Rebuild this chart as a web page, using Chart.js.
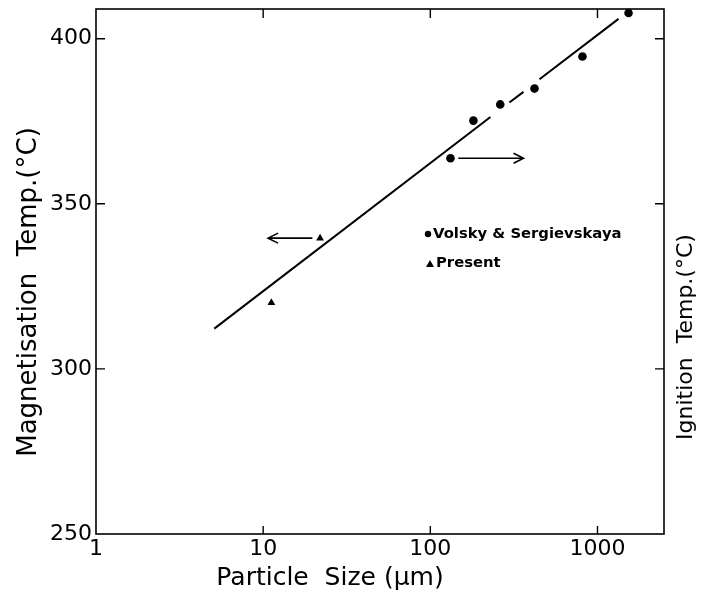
<!DOCTYPE html>
<html><head><meta charset="utf-8">
<script src="https://cdn.jsdelivr.net/npm/chart.js@4/dist/chart.umd.min.js"></script>
<style>html,body{margin:0;padding:0;background:#fff;}#wrap{width:702px;height:595px;position:relative;}</style>
</head><body><div id="wrap"><canvas id="c" width="702" height="595" style="width:702px;height:595px"></canvas></div>
<script>
// ---- data ----
const xTickValues = [1, 10, 100, 1000];
const yTickValues = [250, 300, 350, 400];
const seriesNames = ["Volsky & Sergievskaya", "Present"];
const volskySize = [132, 181, 262, 420, 813, 1534];
const volskyTemp = [363.8, 375.2, 380.1, 384.9, 394.6, 407.8];
const presentSize = [11.2, 21.9];
const presentTemp = [320.0, 339.6];
const fitSolidASize = [5.1, 229];
const fitSolidATemp = [312.2, 376.3];
const fitDashSize = [297, 361];
const fitDashTemp = [380.7, 383.9];
const fitSolidBSize = [450, 1336];
const fitSolidBTemp = [387.7, 406.0];
const arrowStartSize = [147, 19.7];
const arrowEndSize = [361, 10.7];
const arrowTemp = [363.8, 339.6];
const xTitle = "Particle  Size (\u00b5m)";
const yTitle = "Magnetisation  Temp.(\u00b0C)";
const y2Title = "Ignition  Temp.(\u00b0C)";

const pts = (xs, ys) => xs.map((x, i) => ({x: x, y: ys[i]}));
const FONT = "'DejaVu Sans', sans-serif";

const framePlugin = {
  id: 'frame',
  afterDraw(chart) {
    const ctx = chart.ctx, a = chart.chartArea;
    const xs = chart.scales.x, ys = chart.scales.y;
    ctx.save();
    ctx.strokeStyle = '#000';
    ctx.lineWidth = 1.6;
    ctx.strokeRect(a.left, a.top, a.right - a.left, a.bottom - a.top);
    ctx.lineWidth = 1.4;
    ctx.beginPath();
    xTickValues.forEach(v => {
      const px = xs.getPixelForValue(v);
      if (px > a.left + 1) {
        ctx.moveTo(px, a.bottom); ctx.lineTo(px, a.bottom - 8);
        ctx.moveTo(px, a.top); ctx.lineTo(px, a.top + 9);
      }
    });
    yTickValues.forEach(v => {
      const py = ys.getPixelForValue(v);
      if (py < a.bottom - 1) {
        ctx.moveTo(a.left, py); ctx.lineTo(a.left + 9, py);
        ctx.moveTo(a.right, py); ctx.lineTo(a.right - 9, py);
      }
    });
    ctx.stroke();
    // arrows
    ctx.lineWidth = 1.6;
    arrowTemp.forEach((t, i) => {
      const x0 = xs.getPixelForValue(arrowStartSize[i]);
      const x1 = xs.getPixelForValue(arrowEndSize[i]);
      const py = ys.getPixelForValue(t);
      const dir = Math.sign(x1 - x0);
      ctx.beginPath();
      ctx.moveTo(x0, py); ctx.lineTo(x1, py);
      ctx.moveTo(x1 - dir * 10, py - 5); ctx.lineTo(x1, py); ctx.lineTo(x1 - dir * 10, py + 5);
      ctx.stroke();
    });
    // legend
    const lx = a.left + 332, ly = a.top + 225;
    ctx.fillStyle = '#000';
    ctx.beginPath(); ctx.arc(lx, ly, 3.2, 0, Math.PI * 2); ctx.fill();
    ctx.beginPath(); ctx.moveTo(lx + 2, ly + 26); ctx.lineTo(lx + 6, ly + 33); ctx.lineTo(lx - 2, ly + 33); ctx.closePath(); ctx.fill();
    ctx.font = "bold 14.8px " + FONT;
    ctx.textBaseline = 'middle'; ctx.textAlign = 'left';
    ctx.fillText(seriesNames[0], lx + 5, ly);
    ctx.fillText(seriesNames[1], lx + 8, ly + 29);
    // titles
    ctx.textAlign = 'center';
    ctx.font = "26px " + FONT;
    ctx.save(); ctx.translate(29, 292); ctx.rotate(-Math.PI / 2); ctx.fillText(yTitle, 0, 0); ctx.restore();
    ctx.font = "22px " + FONT;
    ctx.save(); ctx.translate(686, 337); ctx.rotate(-Math.PI / 2); ctx.fillText(y2Title, 0, 0); ctx.restore();
    ctx.font = "25px " + FONT;
    ctx.fillText(xTitle, 330, 578);
    ctx.restore();
  }
};

const lineDs = (data, dash) => ({
  type: 'scatter', data: data, showLine: true, borderColor: '#000', borderWidth: 2,
  borderDash: dash, pointRadius: 0, fill: false
});

new Chart(document.getElementById('c'), {
  type: 'scatter',
  data: {
    datasets: [
      lineDs(pts(fitSolidASize, fitSolidATemp), []),
      lineDs(pts(fitDashSize, fitDashTemp), []),
      lineDs(pts(fitSolidBSize, fitSolidBTemp), []),
      { label: seriesNames[0], data: pts(volskySize, volskyTemp), pointStyle: 'circle', pointRadius: 4.3,
        backgroundColor: '#000', borderColor: '#000', borderWidth: 0 },
      { label: seriesNames[1], data: pts(presentSize, presentTemp), pointStyle: 'triangle', pointRadius: 4.5,
        backgroundColor: '#000', borderColor: '#000', borderWidth: 0 }
    ]
  },
  options: {
    responsive: false, animation: false, devicePixelRatio: 1,
    layout: { padding: { top: 9, left: 0, right: 0, bottom: 0 } },
    plugins: { legend: { display: false }, tooltip: { enabled: false } },
    scales: {
      x: {
        type: 'logarithmic', position: 'bottom', min: 1, max: 2500,
        grid: { display: false, drawTicks: false }, border: { display: false },
        ticks: { color: '#000', font: { family: FONT, size: 22 }, padding: 2, autoSkip: false, maxRotation: 0,
          callback: v => String(v) },
        afterBuildTicks: s => { s.ticks = xTickValues.map(v => ({ value: v })); },
        afterFit: s => { s.height = 61; s.paddingLeft = 0; s.paddingRight = 0; }
      },
      y: {
        type: 'linear', position: 'left', min: 250, max: 409,
        grid: { display: false, drawTicks: false }, border: { display: false },
        ticks: { color: '#000', font: { family: FONT, size: 22 }, padding: 4, autoSkip: false,
          callback: v => String(v) },
        afterBuildTicks: s => { s.ticks = yTickValues.map(v => ({ value: v })); },
        afterFit: s => { s.width = 96; s.paddingTop = 0; s.paddingBottom = 0; }
      },
      y2: {
        type: 'linear', position: 'right', min: 250, max: 409, display: true,
        grid: { display: false, drawTicks: false }, border: { display: false },
        ticks: { display: false },
        afterFit: s => { s.width = 38; s.paddingTop = 0; s.paddingBottom = 0; }
      }
    }
  },
  plugins: [framePlugin]
});
</script></body></html>
